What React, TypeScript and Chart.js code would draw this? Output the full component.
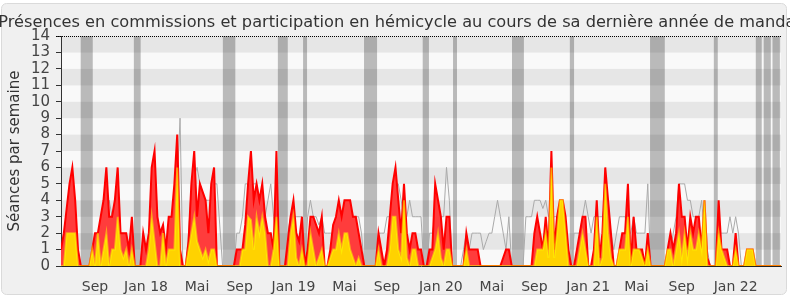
import React, { useEffect, useRef } from "react";
import { Chart, registerables } from "chart.js";

Chart.register(...registerables);

const FONT = "'DejaVu Sans', Verdana, sans-serif";
const TITLE = "Présences en commissions et participation en hémicycle au cours de sa dernière année de mandat";
const Y_TITLE = "Séances par semaine";

// weekly values (index = week since mid-June 2017)
const RED = [
  1, 2, 3.5, 5, 6, 4, 1, 0, 0, 0,
  0, 1, 2, 2, 3, 4, 6, 3, 3, 4,
  6, 2, 2, 2, 1, 3, 0, 0, 0, 2,
  1, 2, 6, 7, 3, 2, 2.5, 1, 3, 3,
  5, 8, 1, 0, 0, 1.5, 5, 7, 3, 5,
  4.5, 4, 2, 5, 6, 0, 0, 0, 0, 0,
  0, 0, 1, 1, 1, 2.5, 5, 7, 4, 5,
  4, 5, 3, 2, 2, 1, 7, 0, 0, 0,
  1.5, 3, 4, 2, 1.5, 3, 0, 1, 3, 3,
  2.5, 2, 3, 0, 0, 1, 2.5, 3, 4, 3,
  4, 4, 4, 3, 3, 2, 1, 0, 0, 0,
  0, 0, 2, 1, 0, 1, 3, 5, 6, 4,
  2, 5, 2, 1, 2, 2, 1, 1, 0, 0,
  1, 1, 5, 4, 3, 1, 3, 3, 0, 0,
  0, 0, 0, 2, 1, 1, 1, 1, 0, 0,
  0, 0, 0, 0, 0, 0, 0.5, 1, 1, 0,
  0, 0, 0, 0, 0, 0, 0, 2, 3, 2,
  1, 3, 1, 7, 1, 3, 4, 4, 3, 1,
  0, 0, 1, 2, 3, 3, 0, 0, 1, 4,
  0.5, 2, 6, 4, 2, 0, 0, 1, 2, 2,
  5, 0, 3, 1, 1, 1, 0, 2, 0, 0,
  0, 0, 0, 0, 1, 2, 1, 2, 5, 3,
  3, 1, 3, 2, 3, 3, 1, 4, 0.5, 0,
  0, 0, 4, 1, 1, 1, 0, 0, 2, 0,
  0, 0, 1, 1, 1, 0, 0, 0, 0, 0,
  0, 0, 0, 0, 0,
];

const YELLOW = [
  0, 0, 2, 2, 2, 2, 0, 0, 0, 0,
  0, 1, 0, 2, 0, 1, 2, 0, 1, 1,
  3, 1, 0.5, 1, 0, 1, 0, 0, 0, 0,
  0, 1, 3, 1.5, 0, 0, 2, 0, 1, 1,
  1, 6, 0, 0, 0, 1, 2, 3, 1.5, 1,
  0.5, 1, 0.3, 1, 1, 0, 0, 0, 0, 0,
  0, 0, 0, 0, 1, 1, 3, 2.8, 1, 3,
  2, 3, 2, 0, 0, 1, 3, 0, 0, 0,
  0, 2, 3, 0.5, 0, 1, 0, 0, 2, 1,
  0, 0.5, 1, 0, 0, 0.5, 1, 1, 2, 1,
  2, 2, 1, 0.5, 0, 0.5, 0, 0, 0, 0,
  0, 0, 1, 0, 0, 0, 1, 3, 3, 1,
  0.5, 4, 0.5, 0, 1, 1, 0, 0, 0, 0,
  0, 0.5, 1, 2, 0.5, 0, 1, 1, 0, 0,
  0, 0, 0, 1, 0, 0, 0, 0, 0, 0,
  0, 0, 0, 0, 0, 0, 0, 0, 0, 0,
  0, 0, 0, 0, 0, 0, 0, 0, 1, 1,
  1, 2, 0.5, 6, 0.5, 2, 4, 4, 2, 0,
  0, 0, 0, 1, 2, 1, 0, 0, 0, 3,
  0, 0.5, 5, 2, 0.5, 0, 0, 1, 1, 1,
  3, 0, 1, 1, 1, 0.5, 0, 1, 0, 0,
  0, 0, 0, 0, 1, 1, 0, 1, 2, 0.5,
  2, 0.5, 2, 1, 1, 2, 1, 4, 0, 0,
  0, 0, 2, 1, 0.5, 0, 0, 0, 1, 0,
  0, 0, 1, 1, 1, 0, 0, 0, 0, 0,
  0, 0, 0, 0, 0,
];

const GRAY = [
  1, 1, 2, 2, 2, 2, 1, 0, 0, 0,
  0, 1, 2, 2, 2, 3, 3, 4, 3, 3,
  3, 2, 2, 2, 1, 2, 0, 0, 0, 2,
  1, 2, 2, 3, 2, 2, 2, 1, 2, 2,
  3, 5, 9, 0, 0, 2, 5, 5.5, 6, 5,
  4.5, 4, 4, 4, 5, 5, 2.5, 0, 0, 0,
  0, 0, 2, 2, 3, 5, 5, 5, 5, 5,
  4, 3, 3, 4, 5, 3, 2, 0, 0, 0,
  2, 3, 3, 3, 3, 3, 0, 3, 4, 3,
  3, 2.5, 3, 2, 2, 2, 2, 3, 3, 3,
  3, 3, 3, 3, 3, 3, 2, 0, 0, 0,
  0, 0, 2, 2, 2, 3, 3, 4, 5, 5,
  4, 3, 3, 4, 3, 3, 3, 3, 0, 0,
  2, 2, 3, 3, 3, 3, 6, 4, 0, 0,
  0, 0, 1, 2, 1, 2, 2, 2, 2, 1,
  1.5, 2, 2, 3, 4, 3, 2, 1, 3, 0,
  0, 0, 0, 0, 3, 3, 3, 4, 4, 4,
  3.5, 4, 3, 3, 3, 3, 3, 3, 2, 0,
  0, 2, 2, 2, 3, 4, 3, 2, 3, 3,
  3, 3, 4, 4, 2, 1, 2, 3, 3, 3,
  2, 2, 3, 2, 2, 2, 2, 5, 0, 0,
  0, 0, 0, 0, 1, 1, 2, 3, 5, 5,
  5, 4, 4, 3, 3, 3, 4, 2, 1, 0,
  0, 0, 2, 2, 2, 2, 3, 2, 3, 2,
  0, 0, 0, 0, 0, 0, 0, 0, 0, 0,
  0, 0, 0, 0, 0,
];

// x tick positions (week index) and their labels
const X_TICKS = [12, 30, 48, 63, 82, 100, 115, 134, 152, 167, 186, 203, 219, 238];
const X_LABELS = ["Sep", "Jan 18", "Mai", "Sep", "Jan 19", "Mai", "Sep", "Jan 20", "Mai", "Sep", "Jan 21", "Mai", "Sep", "Jan 22"];

// parliamentary breaks, in weeks [from, to]
const VACATIONS: [number, number][] = [
  [6.95, 11.2], [25.7, 28.1], [57.1, 61.5], [76.5, 80], [85.4, 86.8],
  [106.9, 111.5], [127.6, 129.8], [138.3, 139.7], [159.1, 163.3], [179.5, 181],
  [207.8, 213], [230.3, 231.7], [245.1, 247.2], [247.9, 250.4], [251, 253.6],
];

const Y_MAX = 14;

const backdrop = {
  id: "backdrop",
  beforeDraw(chart: any) {
    const { ctx, chartArea: a, scales } = chart;
    const x = scales.x, y = scales.y;
    ctx.save();
    ctx.fillStyle = "#f0f0f0";
    ctx.strokeStyle = "#dadada";
    ctx.lineWidth = 1;
    ctx.beginPath();
    (ctx as any).roundRect(1.5, 3.5, 785, 291, 5);
    ctx.fill();
    ctx.stroke();

    ctx.fillStyle = "#333333";
    ctx.font = `16.2px ${FONT}`;
    ctx.textAlign = "center";
    ctx.textBaseline = "alphabetic";
    ctx.fillText(TITLE, 400, 26.5);

    ctx.save();
    ctx.translate(18.5, (a.top + a.bottom) / 2);
    ctx.rotate(-Math.PI / 2);
    ctx.font = `15px ${FONT}`;
    ctx.fillText(Y_TITLE, 0, 0);
    ctx.restore();

    for (let k = 0; k < Y_MAX; k++) {
      ctx.fillStyle = k % 2 === 1 ? "#e6e6e6" : "#f9f9f9";
      const t = y.getPixelForValue(k + 1);
      const b = y.getPixelForValue(k);
      ctx.fillRect(a.left, t, a.right - a.left, b - t);
    }
    ctx.fillStyle = "rgba(0,0,0,0.25)";
    for (const [s, e] of VACATIONS) {
      const x0 = x.getPixelForValue(s);
      const x1 = x.getPixelForValue(e);
      ctx.fillRect(x0, a.top, x1 - x0, a.bottom - a.top);
    }
    ctx.restore();
  },
  beforeDatasetsDraw(chart: any) {
    const { ctx, chartArea: a } = chart;
    ctx.save();
    ctx.strokeStyle = "#000";
    ctx.lineWidth = 1;
    ctx.setLineDash([1, 1]);
    ctx.beginPath();
    ctx.moveTo(56, a.top + 0.5);
    ctx.lineTo(a.right, a.top + 0.5);
    ctx.stroke();
    ctx.restore();
  },
};

export default function App() {
  const ref = useRef<HTMLCanvasElement>(null);

  useEffect(() => {
    const canvas = ref.current!;
    const pts = (arr: number[]) => arr.map((v, i) => ({ x: i, y: v }));
    const chart = new Chart(canvas, {
      type: "line",
      data: {
        datasets: [
          {
            label: "Participation en hémicycle",
            data: pts(YELLOW),
            borderColor: "rgba(255,255,0,0.5)",
            backgroundColor: "#ffd200",
            borderWidth: 2,
            fill: "origin",
            pointRadius: 0,
            tension: 0,
          },
          {
            label: "Présences en commission",
            data: pts(RED),
            borderColor: "#ff0000",
            backgroundColor: "#ff3c3c",
            borderWidth: 2,
            fill: "origin",
            pointRadius: 0,
            tension: 0,
          },
          {
            label: "Médiane des députés",
            data: pts(GRAY),
            borderColor: "#aaaaaa",
            borderWidth: 1,
            fill: false,
            pointRadius: 0,
            tension: 0,
          },
        ],
      },
      options: {
        animation: false,
        responsive: false,
        layout: { padding: { top: 36, right: 9, left: 0, bottom: 0 } },
        plugins: {
          legend: { display: false },
          title: { display: false },
          tooltip: { enabled: false },
        },
        scales: {
          x: {
            type: "linear",
            min: 0,
            max: RED.length - 1,
            grid: { display: false },
            border: { display: true, color: "#222", width: 1 },
            afterFit: (s: any) => { s.height = 34; },
            afterBuildTicks: (s: any) => { s.ticks = X_TICKS.map((v) => ({ value: v })); },
            ticks: {
              autoSkip: false,
              maxRotation: 0,
              padding: 5,
              color: "#444",
              font: { family: FONT, size: 14 },
              callback: (_v: any, i: number) => X_LABELS[i],
            },
          },
          y: {
            min: 0,
            max: Y_MAX,
            afterFit: (s: any) => { s.width = 61; },
            grid: { display: true, drawOnChartArea: false, drawTicks: true, tickLength: 5, color: "#333" },
            border: { display: true, color: "#333", width: 1 },
            ticks: {
              stepSize: 1,
              autoSkip: false,
              padding: 6,
              color: "#444",
              font: { family: FONT, size: 15 },
            },
          },
        },
      },
      plugins: [backdrop],
    } as any);
    return () => chart.destroy();
  }, []);

  return (
    <div style={{ position: "absolute", left: 0, top: 0, width: 790, height: 300 }}>
      <canvas ref={ref} width={790} height={300} style={{ width: 790, height: 300, display: "block" }} />
    </div>
  );
}
